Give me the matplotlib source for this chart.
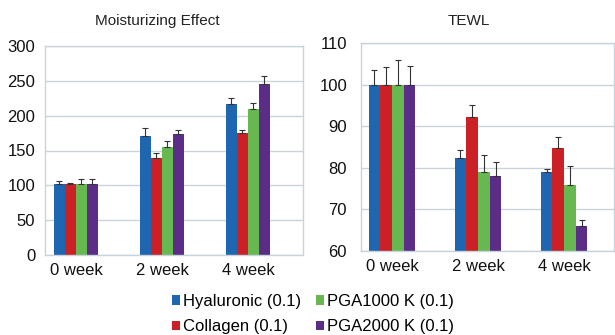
import matplotlib
matplotlib.use("Agg")
import matplotlib.pyplot as plt
import numpy as np
from matplotlib.patches import Patch

plt.rcParams['font.family'] = ['Liberation Sans', 'DejaVu Sans']

weeks = ['0 week', '2 week', '4 week']
series = ['Hyaluronic (0.1)', 'Collagen (0.1)', 'PGA1000 K (0.1)', 'PGA2000 K (0.1)']
colors = ['#1f66b0', '#cc2027', '#68b852', '#5c2d86']

# Moisturizing effect values and upper error
moist = [
    [102, 171, 217],
    [102, 139.5, 175],
    [102, 155, 210],
    [102, 174, 245.5],
]
moist_err = [
    [4, 12, 8.5],
    [1.5, 7.5, 5],
    [6.5, 8, 8],
    [6.5, 5, 11],
]

# TEWL values and upper error
tewl = [
    [100, 82.3, 79.1],
    [100, 92.3, 84.8],
    [100, 79.1, 75.8],
    [100, 78.0, 66.0],
]
tewl_err = [
    [3.5, 1.9, 0.6],
    [4.3, 2.8, 2.6],
    [5.8, 4.0, 4.7],
    [4.5, 3.5, 1.4],
]

W, H = 615, 335
fig = plt.figure(figsize=(W / 100, H / 100), dpi=100)
grid_c = '#c8d4dc'


def draw(ax, vals, errs, width, ylim, yticks):
    x = np.arange(len(weeks))
    n = len(vals)
    for i in range(n):
        pos = x + (i - (n - 1) / 2) * width
        ax.bar(pos, vals[i], width, color=colors[i], zorder=2,
               edgecolor='none')
        ax.errorbar(pos, vals[i], yerr=[np.zeros(len(weeks)), errs[i]],
                    fmt='none', ecolor='#333333', elinewidth=0.8,
                    capsize=2.5, capthick=0.8, zorder=3)
    ax.set_ylim(*ylim)
    ax.set_yticks(yticks)
    ax.set_xticks(x)
    ax.set_xticklabels(weeks)
    ax.yaxis.grid(True, color=grid_c, linewidth=1, zorder=0)
    ax.set_axisbelow(True)
    for s in ax.spines.values():
        s.set_color(grid_c)
        s.set_linewidth(1)
    ax.tick_params(length=0, labelsize=12, colors='#111111')
    ax.tick_params(axis='y', pad=7)
    ax.tick_params(axis='x', pad=6)


ax1 = fig.add_axes([45 / W, 1 - 255 / H, 258 / W, 209 / H])
draw(ax1, moist, moist_err, 0.128, (0, 300), np.arange(0, 301, 50))
ax1.set_xlim(-0.36, 2.64)

ax2 = fig.add_axes([361 / W, 1 - 251 / H, 253 / W, 208 / H])
draw(ax2, tewl, tewl_err, 0.136, (60, 110), np.arange(60, 111, 10))
ax2.set_xlim(-0.36, 2.58)
ax2.tick_params(axis='y', pad=10)

fig.text(157 / W, 1 - 21 / H, 'Moisturizing Effect', ha='center', va='center',
         fontsize=11, color='#222222')
fig.text(469 / W, 1 - 21 / H, 'TEWL', ha='center', va='center',
         fontsize=11, color='#222222')

handles = [Patch(facecolor=c, edgecolor='none') for c in colors]
fig.legend(handles, series, ncol=2, loc='center', bbox_to_anchor=(313 / W, 1 - 314 / H),
           frameon=False, fontsize=12, handlelength=0.48, handleheight=0.48,
           handletextpad=0.2, columnspacing=0.85, labelspacing=0.62,
           borderaxespad=0, borderpad=0)

fig.savefig('out.png', dpi=100)
